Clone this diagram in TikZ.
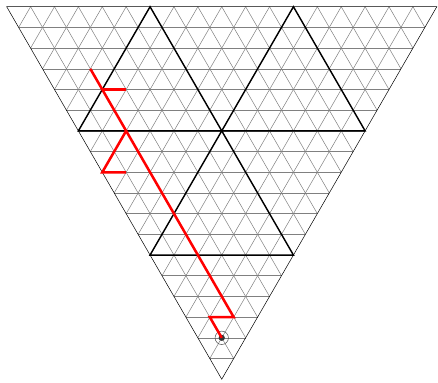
\documentclass[tikz,border=0pt]{standalone}
\usepackage{tikz}
\usetikzlibrary{calc}

\tikzset{
  gridline/.style={gray, line width=0.6pt},
  bigtri/.style={black, line width=1.7pt, line join=miter},
  pathline/.style={red, line width=3pt, line join=miter},
}

\begin{document}
\begin{tikzpicture}
    \def\h{0.8660254}
    \useasboundingbox (-0.28,-0.13) rectangle (18.05,15.87);

    % fine triangular grid
    \foreach \i in {1,...,17} {
      \draw[gridline] ({\i/2},{(18-\i)*\h}) -- ({18-\i/2},{(18-\i)*\h});
      \draw[gridline] (\i,{18*\h}) -- ({9+\i/2},{\i*\h});
      \draw[gridline] (\i,{18*\h}) -- ({\i/2},{(18-\i)*\h});
    }

    % outer triangle
    \coordinate (tl) at (0,{18*\h});
    \coordinate (tr) at (18,{18*\h});
    \coordinate (bot) at (9,0);
    \draw[black, line width=0.6pt] (tl) -- (tr) -- (bot) -- cycle;

    % three upward blocks
    \draw[bigtri] (6,{18*\h}) -- (3,{12*\h}) -- (9,{12*\h}) -- cycle;
    \draw[bigtri] (12,{18*\h}) -- (9,{12*\h}) -- (15,{12*\h}) -- cycle;
    \draw[bigtri] (9,{12*\h}) -- (6,{6*\h}) -- (12,{6*\h}) -- cycle;

    % red path
    \coordinate (pa) at (3.5,{15*\h});
    \coordinate (pb) at (4,{14*\h});
    \coordinate (pbb) at (5,{14*\h});
    \coordinate (pc) at (5,{12*\h});
    \coordinate (pd) at (4,{10*\h});
    \coordinate (pdd) at (5,{10*\h});
    \coordinate (pe) at (9.5,{3*\h});
    \coordinate (pf) at (8.5,{3*\h});
    \coordinate (pg) at (9,{2*\h});

    \draw[black!70, line width=0.6pt] (pg) circle (0.28);
    \fill[black!80] (pg) circle (0.13);
    \draw[pathline] (pa) -- (pc) -- (pe) -- (pf) -- (pg);
    \draw[pathline] (pb) -- (pbb);
    \draw[pathline] (pc) -- (pd) -- (pdd);
  \end{tikzpicture}
\end{document}
